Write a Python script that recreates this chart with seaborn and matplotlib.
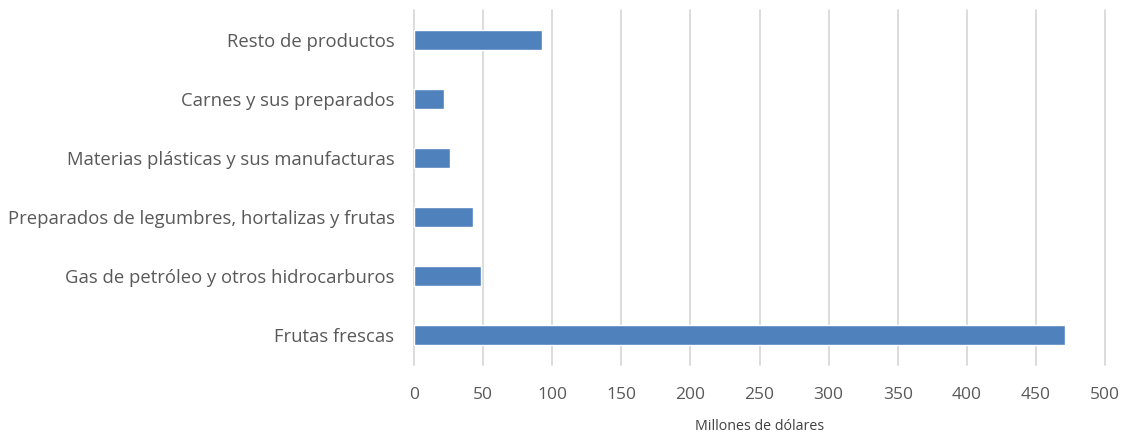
import matplotlib
matplotlib.use("Agg")
import matplotlib.pyplot as plt
import seaborn as sns
import pandas as pd

categories = [
    "Resto de productos",
    "Carnes y sus preparados",
    "Materias plásticas y sus manufacturas",
    "Preparados de legumbres, hortalizas y frutas",
    "Gas de petróleo y otros hidrocarburos",
    "Frutas frescas",
]
values = [92.8, 22, 26, 43, 48.5, 470.8]
xticks = [0, 50, 100, 150, 200, 250, 300, 350, 400, 450, 500]

sns.set_theme(style="white")
plt.rcParams["font.family"] = ["Open Sans", "DejaVu Sans"]

df = pd.DataFrame({"cat": categories, "val": values})

fig = plt.figure(figsize=(11.26, 4.36), dpi=100)
ax = fig.add_axes([414 / 1126, 1 - 365 / 436, (1105 - 414) / 1126, (365 - 10) / 436])

ax.set_axisbelow(True)
for x in xticks:
    ax.axvline(x, color="#d9d9d9", lw=1.3, zorder=0, clip_on=False)

sns.barplot(data=df, x="val", y="cat", orient="h", color="#4f81bd",
            saturation=1, width=0.34, ax=ax, zorder=2)

ax.set_xlim(0, 500)
ax.set_xticks(xticks)
for s in ax.spines.values():
    s.set_visible(False)
ax.tick_params(axis="both", length=0, colors="#595959")
ax.tick_params(axis="y", pad=14, labelsize=13.3)
ax.tick_params(axis="x", pad=16, labelsize=12.5)
ax.set_ylabel("")
ax.set_xlabel("Millones de dólares", color="#404040", fontsize=10.3, labelpad=11)

fig.savefig("out.png", dpi=100)
